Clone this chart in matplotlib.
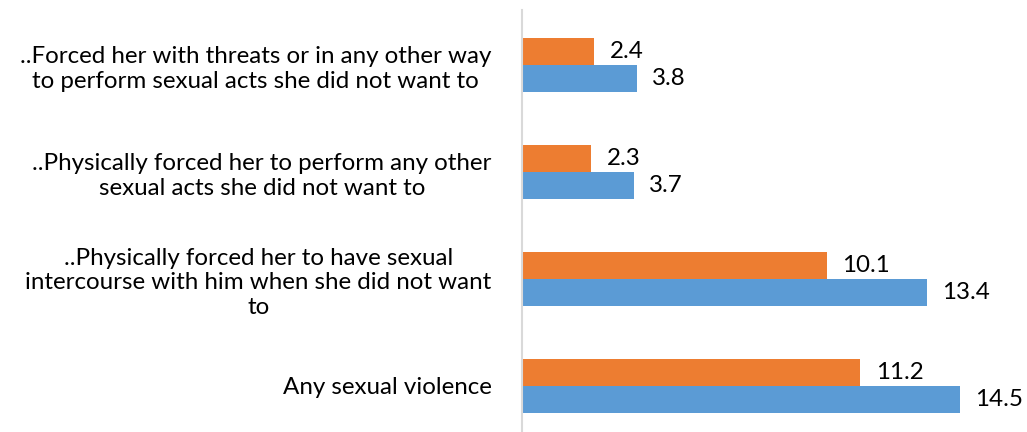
import matplotlib
matplotlib.use("Agg")
import matplotlib.pyplot as plt

categories = [
    "Any sexual violence",
    "..Physically forced her to have sexual\nintercourse with him when she did not want\nto",
    "..Physically forced her to perform any other\nsexual acts she did not want to",
    "..Forced her with threats or in any other way\nto perform sexual acts she did not want to",
]
orange_values = [11.2, 10.1, 2.3, 2.4]
blue_values = [14.5, 13.4, 3.7, 3.8]

ORANGE = "#ED7D31"
BLUE = "#5B9BD5"
FONT = "Lato"
FS = 17.4

fig = plt.figure(figsize=(10.27, 4.32), dpi=100)
ax = fig.add_axes([522 / 1027, 0.0, 1 - 522 / 1027, 1 - 10 / 432])

bar_h = 0.25
ypos = list(range(len(categories)))
ax.barh([y + bar_h / 2 for y in ypos], orange_values, height=bar_h, color=ORANGE)
ax.barh([y - bar_h / 2 for y in ypos], blue_values, height=bar_h, color=BLUE)

for y, v in zip(ypos, orange_values):
    ax.annotate(f"{v:.1f}", (v, y + bar_h / 2), xytext=(11, 0), textcoords="offset points",
                ha="left", va="center", fontsize=FS, family=FONT, color="black")
for y, v in zip(ypos, blue_values):
    ax.annotate(f"{v:.1f}", (v, y - bar_h / 2), xytext=(11, 0), textcoords="offset points",
                ha="left", va="center", fontsize=FS, family=FONT, color="black")

ax.set_xlim(0, 16.72)
ax.set_ylim(-0.43, 3.514)
ax.set_xticks([])
ax.set_yticks(ypos)
ax.set_yticklabels(categories, fontsize=FS, family=FONT, multialignment="center", linespacing=1.22)
ax.tick_params(axis="y", length=0, pad=22)

for side in ("top", "right", "bottom"):
    ax.spines[side].set_visible(False)
ax.spines["left"].set_color("#D9D9D9")
ax.spines["left"].set_linewidth(1.5)

fig.savefig("out.png", dpi=100)
